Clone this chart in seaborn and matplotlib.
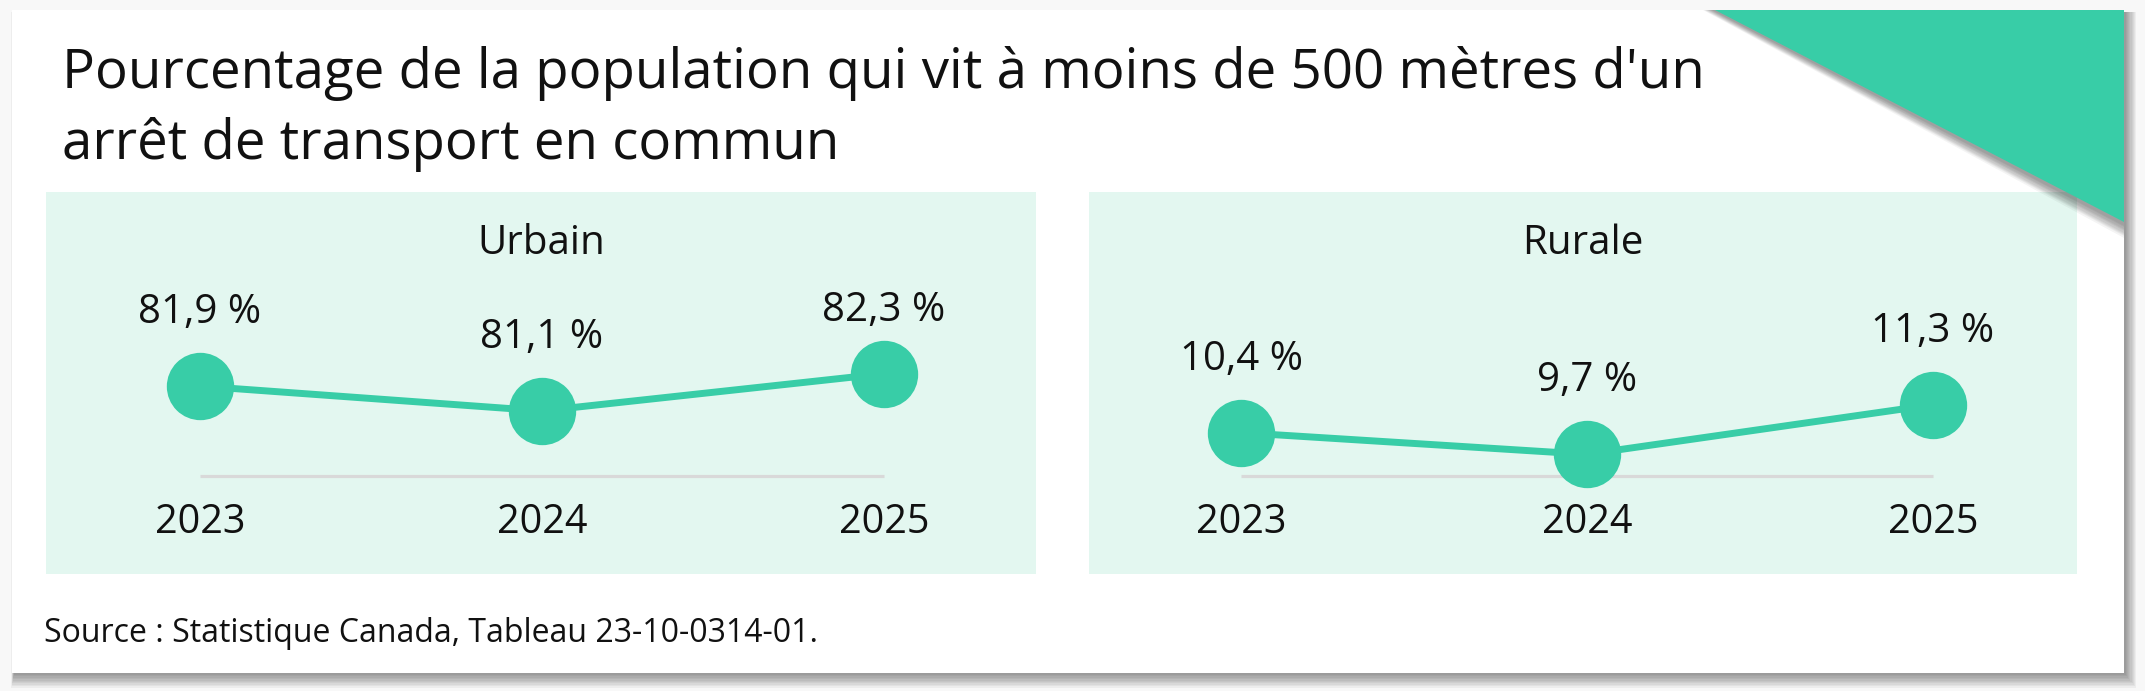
import pandas as pd
import seaborn as sns
import matplotlib.pyplot as plt
from matplotlib.patches import Rectangle, Polygon
from matplotlib.transforms import blended_transform_factory

# data
years = [2023, 2024, 2025]
urbain = [81.9, 81.1, 82.3]
rurale = [10.4, 9.7, 11.3]
panel_names = ["Urbain", "Rurale"]
base_values = [79, 9]   # value sitting on the grey base line of each panel

title_lines = ["Pourcentage de la population qui vit à moins de 500 mètres d'un",
               "arrêt de transport en commun"]
source = "Source : Statistique Canada, Tableau 23-10-0314-01."

GREEN = "#38cda7"
MINT = "#e3f7f0"
W, H = 2145, 691

sns.set_theme(style="white")
plt.rcParams['font.family'] = ['Open Sans', 'DejaVu Sans']

fig = plt.figure(figsize=(W / 100, H / 100), dpi=100)
fig.patch.set_facecolor("#f8f8f8")

# background axes in pixel coords (y down)
bg = fig.add_axes([0, 0, 1, 1])
bg.set_xlim(0, W)
bg.set_ylim(H, 0)
bg.axis('off')

# card with soft shadow (mostly right / bottom)
for k in range(10):
    bg.add_patch(Rectangle((12 + 2 - k * 0.3, 10 + 2), 2112 + k * 1.4, 663 + k * 1.4,
                           color="black", alpha=0.045, lw=0))
bg.add_patch(Rectangle((12, 10), 2112, 663, color="white", lw=0))


def px_box(x0, y0, x1, y1):
    return [x0 / W, 1 - y1 / H, (x1 - x0) / W, (y1 - y0) / H]


panels = [(46, 192, 1036, 574), (1089, 192, 2077, 574)]
insets = [(154, 152), (152, 144)]
px_per_unit = 31
base_px = 98          # base line height above panel bottom
gap_px = 63           # label baseline above point centre
cap_frac = (574 - 321) / 382

for (x0, y0, x1, y1), (il, ir), name, vals, base in zip(panels, insets, panel_names,
                                                        [urbain, rurale], base_values):
    ax = fig.add_axes(px_box(x0, y0, x1, y1))
    ax.set_facecolor(MINT)
    ph = y1 - y0
    pw = x1 - x0
    step = (pw - il - ir) / (len(years) - 1)
    ax.set_xlim(years[0] - il / step, years[-1] + ir / step)
    lo = base - base_px / px_per_unit
    ax.set_ylim(lo, lo + ph / px_per_unit)

    df = pd.DataFrame({"annee": years, "valeur": vals})
    ax.plot([years[0], years[-1]], [base, base], color="#d9d9d9", lw=2.3, zorder=1,
            solid_capstyle='butt')
    sns.lineplot(data=df, x="annee", y="valeur", ax=ax, color=GREEN, lw=5,
                 marker="o", markersize=48.5, markeredgewidth=0, zorder=3)

    trans = blended_transform_factory(ax.transData, ax.transAxes)
    for yr, v in zip(years, vals):
        frac = ax.transAxes.inverted().transform(ax.transData.transform((yr, v)))[1]
        ty = min(frac + gap_px / ph, cap_frac)
        ax.text(yr, ty, f"{v:.1f}".replace(".", ",") + " %", transform=trans,
                ha="center", va="baseline", fontsize=29, color="#111111")
        ax.text(yr, (574 - 533) / ph, str(yr), transform=trans,
                ha="center", va="baseline", fontsize=28.5, color="#111111")

    ax.text(0.5, (574 - 254) / ph, name, transform=ax.transAxes, ha="center",
            va="baseline", fontsize=29, color="#111111")
    ax.set_xticks([])
    ax.set_yticks([])
    ax.set_xlabel("")
    ax.set_ylabel("")
    sns.despine(ax=ax, left=True, bottom=True)

# corner triangle with shadow, drawn above the panels
for k in range(10):
    fig.add_artist(Polygon([(1715 - 3 - k, 10), (2124, 10), (2124, 222 + 4 + k * 1.3)],
                           closed=True, color="black", alpha=0.045, lw=0,
                           transform=bg.transData, zorder=5))
fig.add_artist(Polygon([(1715, 10), (2124, 10), (2124, 222)], closed=True,
                       color=GREEN, lw=0, transform=bg.transData, zorder=6))

# title and source
fig.text(62 / W, 1 - 88 / H, title_lines[0], fontsize=39.3, color="#111111", va="baseline")
fig.text(62 / W, 1 - 159 / H, title_lines[1], fontsize=39.3, color="#111111", va="baseline")
fig.text(44 / W, 1 - 641.5 / H, source, fontsize=23, color="#111111", va="baseline")

fig.savefig("out.png", dpi=100, facecolor=fig.get_facecolor())
